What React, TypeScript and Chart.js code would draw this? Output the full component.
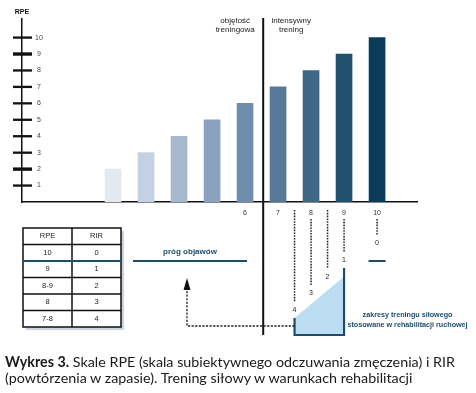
import React, { useEffect, useRef } from "react";
import { Chart, registerables } from "chart.js";
Chart.register(...registerables);

// ---------------- data ----------------
const rpeBars = [2, 3, 4, 5, 6, 7, 8, 9, 10];
const barColors = ["#e4e9f0", "#c3d1e3", "#a7b9cf", "#8aa2bd", "#6f8dac", "#56799a", "#3f6684", "#20506d", "#0b3b5a"];
const yTicks = [1, 2, 3, 4, 5, 6, 7, 8, 9, 10];
const boldYTicks = [2, 9];
const xTickLabels = [6, 7, 8, 9, 10];
const tableHeader = ["RPE", "RIR"];
const tableRPE = ["10", "9", "8-9", "8", "7-8"];
const tableRIR = ["0", "1", "2", "3", "4"];
const rirValues = [0, 1, 2, 3, 4];
const rirAtRPE = [10, 9, 8.5, 8, 7.5];
const dividerRPE = 6.55;
const labelVolume = ["objętość", "treningowa"];
const labelIntensive = ["intensywny", "trening"];
const thresholdLabel = "próg objawów";
const rangeLabel = ["zakresy treningu siłowego", "stosowane w rehabilitacji ruchowej"];
const captionBold = "Wykres 3.";
const captionLine1 = " Skale RPE (skala subiektywnego odczuwania zmęczenia) i RIR";
const captionLine2 = "(powtórzenia w zapasie). Trening siłowy w warunkach rehabilitacji";

const W = 476;
const H = 393;
const FONT = '"Liberation Sans", Arial, sans-serif';
const TEAL = "#1f4d6b";

function line(ctx: CanvasRenderingContext2D, x1: number, y1: number, x2: number, y2: number) {
  ctx.beginPath();
  ctx.moveTo(x1, y1);
  ctx.lineTo(x2, y2);
  ctx.stroke();
}

const extras = {
  id: "extras",
  afterDraw(chart: any) {
    const { ctx, chartArea } = chart;
    const xs = chart.scales.x;
    const ys = chart.scales.y;
    const px = (v: number) => xs.getPixelForValue(v);
    const py = (v: number) => ys.getPixelForValue(v);
    ctx.save();
    ctx.lineCap = "butt";

    // y tick marks crossing the axis
    ctx.strokeStyle = "#111";
    yTicks.forEach((v) => {
      ctx.lineWidth = boldYTicks.includes(v) ? 3.4 : 2.3;
      line(ctx, chartArea.left - 9, py(v), chartArea.left + 10, py(v));
    });

    // axis title
    ctx.fillStyle = "#111";
    ctx.textAlign = "center";
    ctx.textBaseline = "middle";
    ctx.font = `bold 7px ${FONT}`;
    ctx.fillText("RPE", chartArea.left, 12);

    // divider
    const dx = px(dividerRPE);
    ctx.lineWidth = 2;
    ctx.strokeStyle = "#111";
    line(ctx, dx, 18, dx, 335);

    // headers
    ctx.font = `8px ${FONT}`;
    ctx.fillStyle = "#222";
    labelVolume.forEach((t, i) => ctx.fillText(t, dx - 28, 21 + i * 8.5));
    labelIntensive.forEach((t, i) => ctx.fillText(t, dx + 28, 21 + i * 8.5));

    // RIR dotted guides
    const RIR_Y0 = 243.3;
    const RIR_STEP = 16.7;
    const rirY = (r: number) => RIR_Y0 + r * RIR_STEP;
    ctx.font = `7px ${FONT}`;
    rirValues.forEach((r, i) => {
      const xx = px(rirAtRPE[i]);
      const y0 = Number.isInteger(rirAtRPE[i]) ? 219 : 210;
      ctx.setLineDash([1.6, 1.2]);
      ctx.lineWidth = 1.5;
      ctx.strokeStyle = "#222";
      line(ctx, xx, y0, xx, rirY(r) - 8);
      ctx.setLineDash([]);
      ctx.fillStyle = "#222";
      ctx.fillText(String(r), xx, rirY(r));
    });

    // trapezoid
    const xl = px(rirAtRPE[4]);
    const xr = px(rirAtRPE[1]);
    const yb = 335;
    ctx.fillStyle = "#bcdcf2";
    ctx.beginPath();
    ctx.moveTo(xl, rirY(4) + 8);
    ctx.lineTo(xr, rirY(1) + 16.5);
    ctx.lineTo(xr, yb);
    ctx.lineTo(xl, yb);
    ctx.closePath();
    ctx.fill();
    ctx.strokeStyle = "#234a68";
    ctx.lineWidth = 2.2;
    ctx.beginPath();
    ctx.moveTo(xl, rirY(4) + 8);
    ctx.lineTo(xl, yb);
    ctx.lineTo(xr, yb);
    ctx.lineTo(xr, rirY(1) + 8);
    ctx.stroke();

    // table
    const tX = 23, tW = 98, colX = 72, tTop = 228, rowH = 16.5, rows = 6;
    ctx.fillStyle = "#c9d3e2";
    ctx.fillRect(tX + 3, tTop + 3, tW, rowH * rows);
    ctx.fillStyle = "#fff";
    ctx.fillRect(tX, tTop, tW, rowH * rows);
    ctx.strokeStyle = "#111";
    ctx.lineWidth = 1.5;
    ctx.strokeRect(tX, tTop, tW, rowH * rows);
    line(ctx, colX, tTop, colX, tTop + rowH * rows);
    for (let i = 1; i < rows; i++) {
      if (i !== 2) line(ctx, tX, tTop + rowH * i, tX + tW, tTop + rowH * i);
    }
    const tY = tTop + rowH * 2;
    ctx.strokeStyle = TEAL;
    ctx.lineWidth = 2;
    line(ctx, tX, tY, tX + tW, tY);
    ctx.fillStyle = "#222";
    ctx.font = `7.5px ${FONT}`;
    const c1 = (tX + colX) / 2, c2 = (colX + tX + tW) / 2;
    ctx.fillText(tableHeader[0], c1, tTop + rowH / 2);
    ctx.fillText(tableHeader[1], c2, tTop + rowH / 2);
    tableRPE.forEach((t, i) => {
      ctx.fillText(t, c1, tTop + rowH * (i + 1.5));
      ctx.fillText(tableRIR[i], c2, tTop + rowH * (i + 1.5));
    });

    // threshold lines
    ctx.strokeStyle = TEAL;
    ctx.lineWidth = 2;
    line(ctx, 133, tY, px(6) + 2, tY);
    line(ctx, px(10) - 8.5, tY, px(10) + 8.5, tY);
    ctx.fillStyle = TEAL;
    ctx.font = `bold 8px ${FONT}`;
    ctx.fillText(thresholdLabel, 190, 252);

    // dashed arrow
    ctx.setLineDash([2.2, 1.4]);
    ctx.strokeStyle = "#222";
    ctx.lineWidth = 1.3;
    ctx.beginPath();
    ctx.moveTo(xl, 326);
    ctx.lineTo(187, 326);
    ctx.lineTo(187, 289);
    ctx.stroke();
    ctx.setLineDash([]);
    ctx.fillStyle = "#111";
    ctx.beginPath();
    ctx.moveTo(187, 278);
    ctx.lineTo(183.5, 290);
    ctx.lineTo(190.5, 290);
    ctx.closePath();
    ctx.fill();

    // range label
    ctx.fillStyle = TEAL;
    ctx.font = `bold 7.2px ${FONT}`;
    rangeLabel.forEach((t, i) => ctx.fillText(t, 407.5, 315 + i * 10));

    ctx.restore();
  },
};

export default function App() {
  const ref = useRef<HTMLCanvasElement | null>(null);
  useEffect(() => {
    if (!ref.current) return;
    const chart = new Chart(ref.current, {
      type: "bar",
      data: {
        datasets: [
          {
            data: rpeBars.map((v) => ({ x: v, y: v })),
            backgroundColor: barColors,
            barThickness: 16,
            borderWidth: 0,
          },
        ],
      },
      options: {
        responsive: false,
        animation: false,
        devicePixelRatio: 1,
        layout: { padding: { left: 20, top: 19, right: 59, bottom: 171 } },
        plugins: { legend: { display: false }, tooltip: { enabled: false } },
        scales: {
          x: {
            type: "linear",
            min: -0.758,
            max: 11.21,
            offset: false,
            grid: { display: false },
            border: { display: true, color: "#111", width: 1.5 },
            afterBuildTicks: (s: any) => {
              s.ticks = xTickLabels.map((v) => ({ value: v }));
            },
            afterFit: (s: any) => {
              s.height = 20;
            },
            ticks: {
              autoSkip: false,
              maxRotation: 0,
              padding: -1,
              color: "#333",
              font: { size: 7, family: FONT },
              callback: (v: any) => String(v),
            },
          },
          y: {
            type: "linear",
            min: 0,
            max: 11.13,
            grid: { display: false },
            border: { display: true, color: "#111", width: 1.5 },
            afterBuildTicks: (s: any) => {
              s.ticks = yTicks.map((v) => ({ value: v }));
            },
            afterFit: (s: any) => {
              s.width = 2;
            },
            ticks: {
              mirror: true,
              crossAlign: "center",
              padding: 13,
              color: "#444",
              font: { size: 7, family: FONT },
              callback: (v: any) => String(v),
            },
          },
        },
      },
      plugins: [extras],
    } as any);
    return () => chart.destroy();
  }, []);

  return (
    <div style={{ position: "absolute", left: 0, top: 0, width: W, height: H, background: "#fff", overflow: "hidden" }}>
      <canvas ref={ref} width={W} height={H} style={{ width: W, height: H, display: "block" }} />
      <div
        style={{
          position: "absolute",
          left: 5,
          top: 354,
          width: 471,
          fontFamily: "Lato, sans-serif",
          fontSize: 14.3,
          lineHeight: "16px",
          color: "#1a1a1a",
          whiteSpace: "nowrap",
        }}
      >
        <b>{captionBold}</b>
        {captionLine1}
        <br />
        {captionLine2}
      </div>
    </div>
  );
}
